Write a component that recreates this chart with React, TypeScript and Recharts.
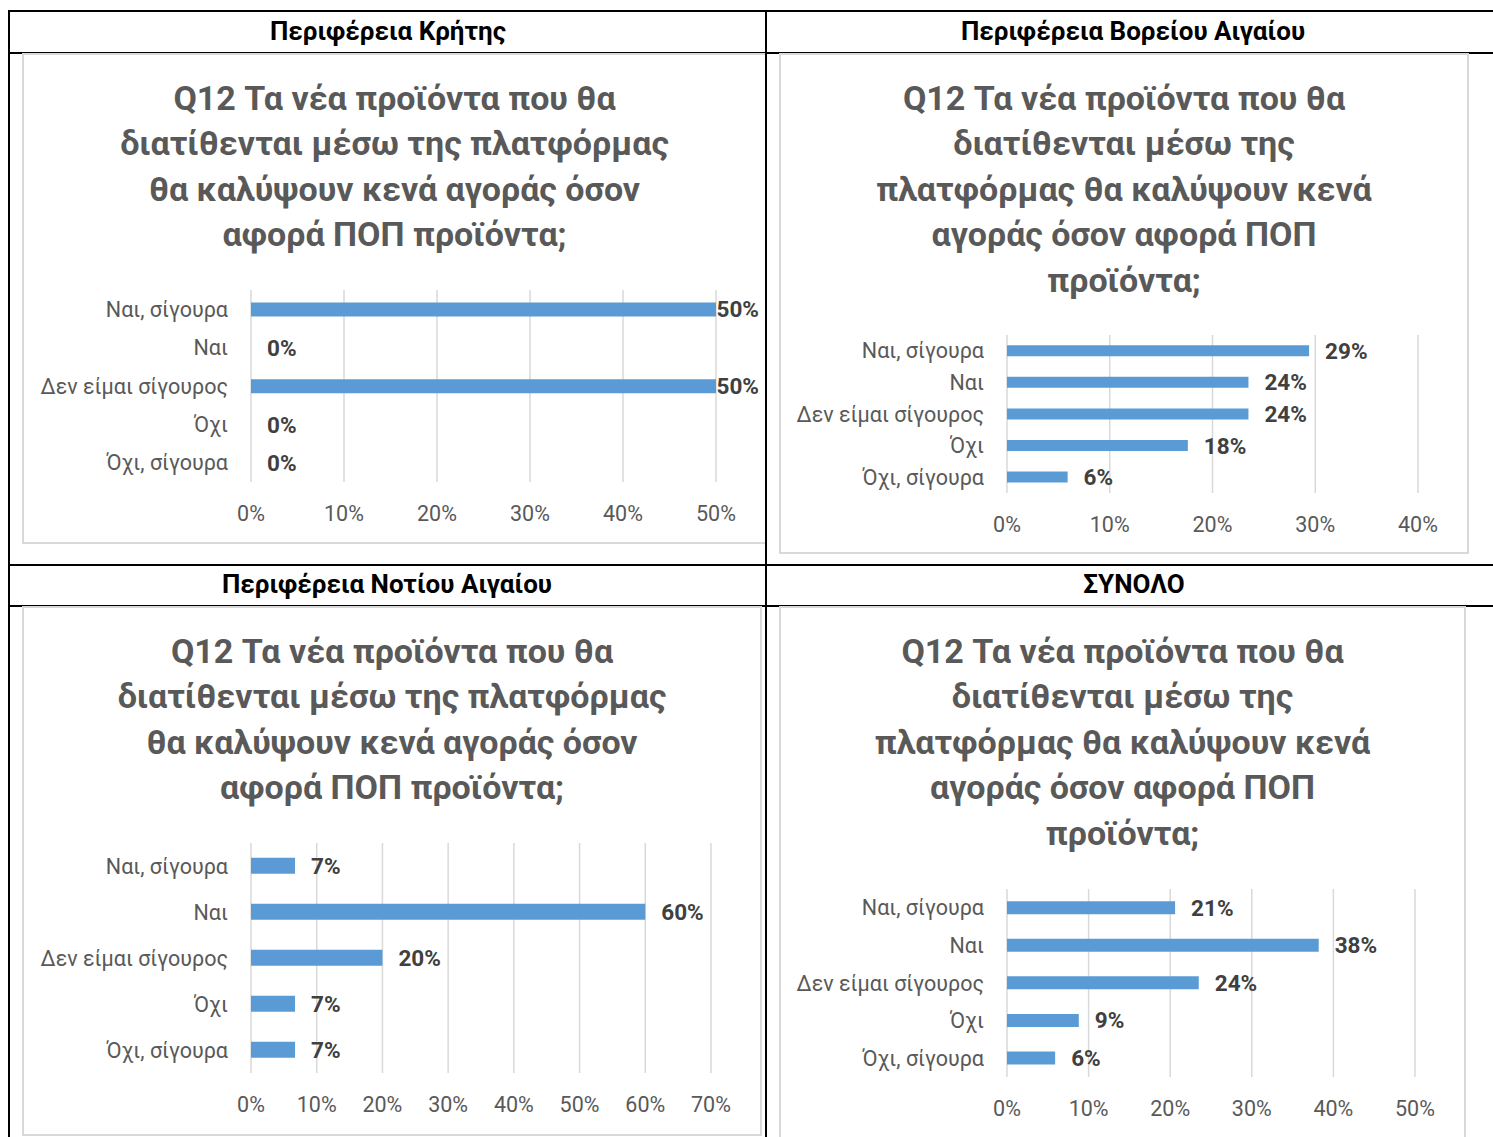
import React from 'react';
import { BarChart, Bar, XAxis, YAxis, CartesianGrid, LabelList } from 'recharts';

// ---------- data ----------
const categories = ['Ναι, σίγουρα', 'Ναι', 'Δεν είμαι σίγουρος', 'Όχι', 'Όχι, σίγουρα'];

const creteValues = [0.5, 0, 0.5, 0, 0];
const northAegeanValues = [0.294, 0.235, 0.235, 0.176, 0.059];
const southAegeanValues = [0.067, 0.6, 0.2, 0.067, 0.067];
const totalValues = [0.206, 0.382, 0.235, 0.088, 0.059];

const creteTicks = [0, 0.1, 0.2, 0.3, 0.4, 0.5];
const northAegeanTicks = [0, 0.1, 0.2, 0.3, 0.4];
const southAegeanTicks = [0, 0.1, 0.2, 0.3, 0.4, 0.5, 0.6, 0.7];
const totalTicks = [0, 0.1, 0.2, 0.3, 0.4, 0.5];

const headerCrete = 'Περιφέρεια Κρήτης';
const headerNorth = 'Περιφέρεια Βορείου Αιγαίου';
const headerSouth = 'Περιφέρεια Νοτίου Αιγαίου';
const headerTotal = 'ΣΥΝΟΛΟ';

const titleWide = [
  'Q12 Τα νέα προϊόντα που θα',
  'διατίθενται μέσω της πλατφόρμας',
  'θα καλύψουν κενά αγοράς όσον',
  'αφορά ΠΟΠ προϊόντα;',
];
const titleNarrow = [
  'Q12 Τα νέα προϊόντα που θα',
  'διατίθενται μέσω της',
  'πλατφόρμας θα καλύψουν κενά',
  'αγοράς όσον αφορά ΠΟΠ',
  'προϊόντα;',
];

// ---------- styles ----------
const FONT = 'Roboto, "Noto Sans", sans-serif';
const BAR = '#5b9bd5';
const GRID = '#d9d9d9';
const TEXT = '#595959';
const LABEL = '#404040';
const LABEL_FONT_SIZE = 22.5;
const TICK_FONT_SIZE = 21.5;
const TITLE_FONT_SIZE = 34;
const HEADER_FONT_SIZE = 26;

const fmt = (v: number) => `${Math.round(v * 100)}%`;

let canvasCtx: CanvasRenderingContext2D | null = null;
function measure(text: string, font: string): number {
  if (!canvasCtx) {
    const c = document.createElement('canvas');
    canvasCtx = c.getContext('2d');
  }
  if (!canvasCtx) return text.length * 12;
  canvasCtx.font = font;
  return canvasCtx.measureText(text).width;
}

type Box = { left: number; top: number; right: number; bottom: number };

function makeLabel(limitX: number) {
  return (props: any) => {
    const { x, y, width, height, value } = props;
    const text = fmt(Number(value));
    const end = Number(x) + Math.max(0, Number(width));
    const tw = measure(text, `bold ${LABEL_FONT_SIZE}px Roboto`);
    const gap = Math.max(0, Math.min(16, limitX - end - tw));
    return (
      <text
        x={end + gap}
        y={Number(y) + Number(height) / 2}
        dominantBaseline="central"
        textAnchor="start"
        fill={LABEL}
        fontSize={LABEL_FONT_SIZE}
        fontWeight="bold"
        fontFamily={FONT}
      >
        {text}
      </text>
    );
  };
}

function Panel({
  box,
  plot,
  values,
  ticks,
  titleLines,
}: {
  box: Box;
  plot: Box;
  values: number[];
  ticks: number[];
  titleLines: string[];
}) {
  const data = categories.map((c, i) => ({ name: c, value: values[i] }));
  const w = box.right - box.left;
  const h = box.bottom - box.top;
  const xAxisH = 50;
  const yAxisW = plot.left - box.left;
  const margin = {
    top: plot.top - box.top,
    right: box.right - plot.right,
    bottom: box.bottom - plot.bottom - xAxisH,
    left: 0,
  };
  const lineH = 45.6;
  return (
    <>
      <div
        style={{
          position: 'absolute',
          left: box.left,
          top: box.top,
          width: w,
          height: h,
          boxSizing: 'border-box',
          border: `2px solid ${GRID}`,
          background: '#fff',
        }}
      />
      {titleLines.map((t, i) => (
        <div
          key={i}
          style={{
            position: 'absolute',
            left: box.left,
            width: w,
            top: box.top + 22.5 + i * lineH,
            height: lineH,
            lineHeight: `${lineH}px`,
            textAlign: 'center',
            whiteSpace: 'nowrap',
            fontFamily: FONT,
            fontWeight: 700,
            fontSize: TITLE_FONT_SIZE,
            color: TEXT,
          }}
        >
          {t}
        </div>
      ))}
      <div style={{ position: 'absolute', left: box.left, top: box.top }}>
        <BarChart width={w} height={h} data={data} layout="vertical" margin={margin} barCategoryGap="32.3%">
          <CartesianGrid horizontal={false} stroke={GRID} strokeWidth={1.5} />
          <XAxis
            type="number"
            domain={[0, ticks[ticks.length - 1]]}
            ticks={ticks}
            tickFormatter={fmt}
            axisLine={false}
            tickLine={false}
            tickSize={0}
            tickMargin={24}
            height={xAxisH}
            interval={0}
            tick={{ fill: TEXT, fontSize: TICK_FONT_SIZE, fontFamily: FONT }}
          />
          <YAxis
            type="category"
            dataKey="name"
            width={yAxisW}
            axisLine={false}
            tickLine={false}
            tickSize={0}
            tickMargin={23}
            interval={0}
            tick={{ fill: TEXT, fontSize: TICK_FONT_SIZE, fontFamily: FONT }}
          />
          <Bar dataKey="value" fill={BAR} isAnimationActive={false} minPointSize={0.01}>
            <LabelList dataKey="value" content={makeLabel(w - 8)} />
          </Bar>
        </BarChart>
      </div>
    </>
  );
}

function Header({ text, cx, cy }: { text: string; cx: number; cy: number }) {
  return (
    <div
      style={{
        position: 'absolute',
        left: cx - 300,
        width: 600,
        top: cy - 20,
        height: 40,
        lineHeight: '40px',
        textAlign: 'center',
        fontFamily: FONT,
        fontWeight: 700,
        fontSize: HEADER_FONT_SIZE,
        color: '#000',
        whiteSpace: 'nowrap',
      }}
    >
      {text}
    </div>
  );
}

const line = (left: number, top: number, width: number, height: number) => (
  <div style={{ position: 'absolute', left, top, width, height, background: '#000' }} />
);

export default function App() {
  return (
    <div
      style={{
        position: 'absolute',
        left: 0,
        top: 0,
        width: 1493,
        height: 1137,
        overflow: 'hidden',
        background: '#fff',
      }}
    >
      {/* horizontal table lines (under chart boxes) */}
      {line(8, 10, 1500, 2)}
      {line(8, 52, 1500, 2)}
      {line(8, 564, 1500, 2)}
      {line(8, 605, 1500, 2)}

      <Header text={headerCrete} cx={388} cy={31} />
      <Header text={headerNorth} cx={1133} cy={31} />
      <Header text={headerSouth} cx={387} cy={584} />
      <Header text={headerTotal} cx={1134} cy={584} />

      <Panel
        box={{ left: 22, top: 53, right: 767, bottom: 544 }}
        plot={{ left: 251, top: 290, right: 716, bottom: 482 }}
        values={creteValues}
        ticks={creteTicks}
        titleLines={titleWide}
      />
      <Panel
        box={{ left: 779, top: 53, right: 1469, bottom: 554 }}
        plot={{ left: 1007, top: 335, right: 1418, bottom: 493 }}
        values={northAegeanValues}
        ticks={northAegeanTicks}
        titleLines={titleNarrow}
      />
      <Panel
        box={{ left: 22, top: 606, right: 762, bottom: 1136 }}
        plot={{ left: 251, top: 843, right: 711, bottom: 1073 }}
        values={southAegeanValues}
        ticks={southAegeanTicks}
        titleLines={titleWide}
      />
      <Panel
        box={{ left: 779, top: 606, right: 1466, bottom: 1142 }}
        plot={{ left: 1007, top: 889, right: 1415, bottom: 1077 }}
        values={totalValues}
        ticks={totalTicks}
        titleLines={titleNarrow}
      />

      {/* vertical table lines (over chart boxes) */}
      {line(8, 10, 2, 1140)}
      {line(765, 10, 2, 1140)}
    </div>
  );
}
